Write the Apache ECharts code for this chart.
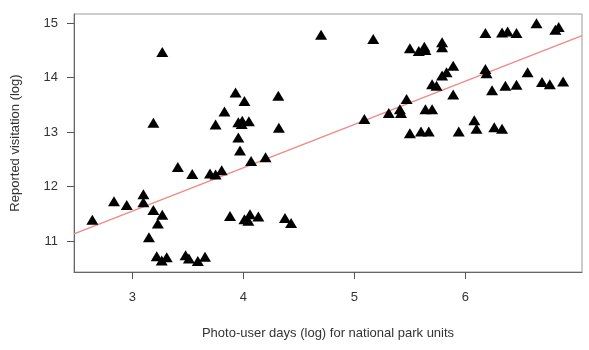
<!DOCTYPE html>
<html>
<head>
<meta charset="utf-8">
<script src="https://cdn.jsdelivr.net/npm/echarts@6/dist/echarts.min.js"></script>
<style>
  html, body { margin: 0; padding: 0; background: #fff; }
  #chart { width: 589px; height: 350px; }
</style>
</head>
<body>
<div id="chart"></div>
<script>
// photo-user days (log) per park unit
const photoUserDays = [
  2.64, 2.835, 2.95, 3.10, 3.10, 3.15, 3.19, 3.19, 3.23, 3.27, 3.27, 3.22, 3.265, 3.31, 3.41, 3.54, 3.48, 3.51, 3.59, 3.655,
  3.70, 3.75, 3.805, 3.75, 3.83, 3.93, 4.01, 3.955, 3.99, 4.05, 3.985, 3.955, 3.97, 4.07, 4.20, 4.315, 4.32,
  3.88, 4.01, 4.06, 4.135, 4.045, 4.375, 4.43, 4.70,
  5.17, 5.09, 5.31, 5.41, 5.42, 5.47, 5.50, 5.60, 5.67, 5.64, 5.70, 5.70, 5.74, 5.50, 5.58, 5.63, 5.64, 5.79, 5.79,
  5.89, 5.83, 5.79, 5.89, 5.94, 6.08, 6.10, 6.18, 6.19, 6.18, 6.24, 6.26, 6.33, 6.36, 6.46, 6.33, 6.38, 6.46,
  6.56, 6.64, 6.69, 6.76, 6.81, 6.84, 6.88
];
// reported visitation (log), same order
const reportedVisits = [
  11.39, 11.73, 11.66, 11.86, 11.71, 11.07, 11.57, 13.17, 11.32, 11.48, 14.47, 10.72, 10.64, 10.70, 12.36, 12.23, 10.74, 10.68, 10.63, 10.71,
  12.24, 12.22, 12.30, 13.14, 13.38, 13.73, 13.57, 13.18, 13.21, 13.20, 13.15, 12.90, 12.66, 12.47, 12.54, 13.67, 13.08,
  11.46, 11.40, 11.49, 11.45, 11.37, 11.42, 11.33, 14.79,
  14.71, 13.24, 13.35, 13.42, 13.35, 13.61, 12.98, 13.01, 13.01, 13.42, 13.42, 13.88, 13.85, 14.54, 14.49, 14.57, 14.51, 14.65, 14.56,
  14.22, 14.10, 14.04, 13.69, 13.01, 13.22, 13.06, 14.16, 14.08, 14.82, 13.77, 13.09, 13.06, 13.85, 13.87, 14.83, 14.85, 14.82,
  14.10, 15.00, 13.92, 13.88, 14.88, 14.93, 13.93
];
const xTicks = [3, 4, 5, 6];
const yTicks = [11, 12, 13, 14, 15];
// fitted line: visitation = intercept + slope * photoDays
const fitIntercept = 9.16;
const fitSlope = 0.796;

const xMin = 2.475, xMax = 7.05;
const yMin = 10.43, yMax = 15.17;

const points = photoUserDays.map((x, i) => [x, reportedVisits[i]]);
const fitLine = [xMin, xMax].map((x) => [x, fitIntercept + fitSlope * x]);

const font = 'Liberation Sans, Arial, Helvetica, sans-serif';
const chart = echarts.init(document.getElementById('chart'), null, { renderer: 'canvas' });

chart.setOption({
  animation: false,
  backgroundColor: '#fff',
  grid: { left: 74, right: 7, top: 14, bottom: 78, show: true, borderColor: '#9a9a9a', borderWidth: 1, backgroundColor: 'transparent' },
  xAxis: {
    type: 'value', min: xMin, max: xMax,
    name: 'Photo-user days (log) for national park units',
    nameLocation: 'middle', nameGap: 55,
    nameTextStyle: { color: '#333', fontSize: 13, fontFamily: font },
    axisLine: { show: true, lineStyle: { color: '#666', width: 1 } },
    axisTick: { show: true, length: 7, customValues: xTicks, lineStyle: { color: '#555' } },
    axisLabel: { customValues: xTicks, color: '#333', fontSize: 13, fontFamily: font, margin: 19 },
    splitLine: { show: false }
  },
  yAxis: {
    type: 'value', min: yMin, max: yMax,
    name: 'Reported visitation (log)',
    nameLocation: 'middle', nameGap: 52, nameRotate: 90,
    nameTextStyle: { color: '#333', fontSize: 13, fontFamily: font },
    axisLine: { show: true, lineStyle: { color: '#666', width: 1 } },
    axisTick: { show: true, length: 7, customValues: yTicks, lineStyle: { color: '#555' } },
    axisLabel: { customValues: yTicks, color: '#333', fontSize: 13, fontFamily: font, margin: 16 },
    splitLine: { show: false }
  },
  series: [
    {
      type: 'line',
      data: fitLine,
      showSymbol: false,
      silent: true,
      lineStyle: { color: '#f08a8a', width: 1.5 },
      z: 1
    },
    {
      type: 'scatter',
      data: points,
      symbol: 'triangle',
      symbolSize: [12, 10],
      itemStyle: { color: '#000', opacity: 1 },
      z: 2
    }
  ]
});
</script>
</body>
</html>
